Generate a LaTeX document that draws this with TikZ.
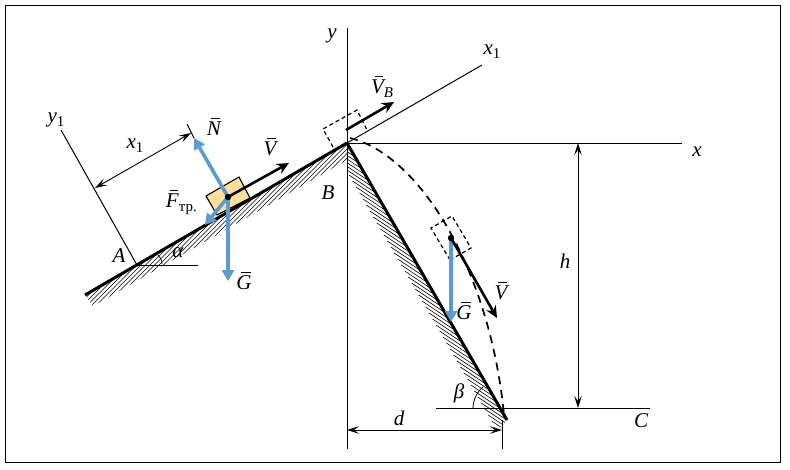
\documentclass[tikz,border=0pt]{standalone}
\usepackage{fontspec}
\setmainfont{Liberation Serif}
\usetikzlibrary{arrows.meta}
\definecolor{fblue}{RGB}{91,155,213}
\definecolor{fyel}{RGB}{255,224,150}
\tikzset{
  thinl/.style={line width=1pt,black},
  thickl/.style={line width=3pt,black},
  hatchl/.style={line width=0.6pt,black},
  dimtip/.tip={Stealth[length=12pt,width=7.5pt,inset=5pt]},
  dimarrow/.style={line width=0.9pt,dimtip-dimtip},
  force/.style={line width=3.6pt,fblue,-{Triangle[length=11pt,width=12pt]}},
  vel/.style={line width=2.6pt,black,-{Stealth[length=12pt,width=11pt,inset=4pt]}},
  dbox/.style={line width=1.2pt,dash pattern=on 4pt off 3pt},
  lab/.style={inner sep=0pt,font=\fontsize{21}{23}\selectfont\itshape},
}
\newsavebox{\vbbox}
\newcommand{\vb}[1]{\sbox{\vbbox}{#1}\rlap{\kern0.3\wd\vbbox\rule[16.5pt]{0.65\wd\vbbox}{0.8pt}}\usebox{\vbbox}}
\newcommand{\sbs}[2]{\raisebox{-4pt}{\fontsize{#1}{#1}\selectfont #2}}
\begin{document}
\begin{tikzpicture}[x=1pt,y=-1pt]
\useasboundingbox (0,0) rectangle (790,469);
\fill[white] (0,0) rectangle (790,469);
\draw[line width=1pt] (5.5,5.5) rectangle (780.5,462.5);
\coordinate (L) at (85,295);
\coordinate (B) at (347,143);
\coordinate (R) at (507,420);
\coordinate (A) at (137,265);
% hatching
\begin{scope}
\clip (L) -- (B) -- (347,160) -- (93,306) -- cycle;
\foreach \i in {50,54.5,...,185}{\draw[hatchl] (\i,320) -- ++(200,-200);}
\end{scope}
\begin{scope}
\clip (B) -- (R) -- (500,429) -- (489,420) -- (347,174) -- cycle;
\foreach \i in {-10,-4,...,300}{\draw[hatchl] (320+0.58*\i,125+\i) -- ++(54,36);}
\end{scope}
% axes
\draw[thinl] (347,28) -- (347,449);
\draw[thinl] (347,143) -- (682,143);
\draw[thinl] (B) -- (482,65);
\draw[thinl] (61,130) -- (A);
\draw[thinl] (A) -- (198,265);
\draw[thinl] (436,408) -- (650,408);
\draw[thinl] (502,420) -- (502,449);
\draw[thinl] (187,124) -- (194,138);
% ground lines
\draw[thickl] (L) -- (B);
\draw[thickl] (B) -- (R);
% trajectory
\draw[line width=1.7pt,dash pattern=on 8pt off 6pt] (350,138) .. controls (420,155) and (490,270) .. (504,415);
% dim arrows
\draw[dimarrow] (95,188) -- (191,133);
\draw[dimarrow] (578,143) -- (578,408);
\draw[dimarrow] (347,430) -- (502,430);
% angles
\draw[line width=0.7pt] (158,255) .. controls (160,257) and (162,260) .. (162,264);
\draw[line width=0.8pt] (483,387) .. controls (477,392) and (473,400) .. (473,408);
% dashed boxes
\draw[dbox] (333,147) -- (323,129) -- (357,110) -- (367,130);
\draw[dbox] (450,260) -- (431,228) -- (452,216) -- (471,248) -- cycle;
% block
\draw[line width=1.1pt,fill=fyel] (206,196) -- (239,177) -- (250,198) -- (217,215) -- cycle;
% forces
\coordinate (O1) at (228,197);
\coordinate (O2) at (451,238);
\draw[vel] (O1) -- (289,163);
\draw[force] (O1) -- (194,138);
\draw[force] (O1) -- (205,225);
\draw[force] (O1) -- (228,281);
\fill (O1) circle (3.2pt);
\draw[vel] (346,130) -- (394,102);
\draw[force] (O2) -- (451,322);
\draw[vel] (O2) -- (497,318);
\fill (O2) circle (3.2pt);
% labels
\node[lab] (ny) at (332,36) {y};
\node[lab] (nx1) at (492,52) {x\sbs{15}{\upshape 1}};
\node[lab] (nx) at (697,152) {x};
\node[lab] (ny1) at (56,120) {y\sbs{15}{\upshape 1}};
\node[lab] (nxx1) at (135,146) {x\sbs{15}{\upshape 1}};
\node[lab] (nN) at (214,127) {\vb{N}};
\node[lab] (nV) at (270,147) {\vb{V}};
\node[lab] (nVB) at (382,87) {\vb{V}\sbs{15}{B}};
\node[lab,anchor=east] (nF) at (197,202) {\vb{F}\sbs{15}{\upshape тр.}};
\node[lab] (nBB) at (328,193) {B};
\node[lab] (nA) at (119,256) {A};
\node[lab] (nal) at (178,253) {α};
\node[lab] (nG) at (244,281) {\vb{G}};
\node[lab] (nG2) at (464,311) {\vb{G}};
\node[lab] (nV2) at (501,291) {\vb{V}};
\node[lab] (nh) at (565,261) {h};
\node[lab] (nbeta) at (459,393) {β};
\node[lab] (nd) at (399,418) {d};
\node[lab] (nC) at (641,421) {C};
\end{tikzpicture}
\end{document}
